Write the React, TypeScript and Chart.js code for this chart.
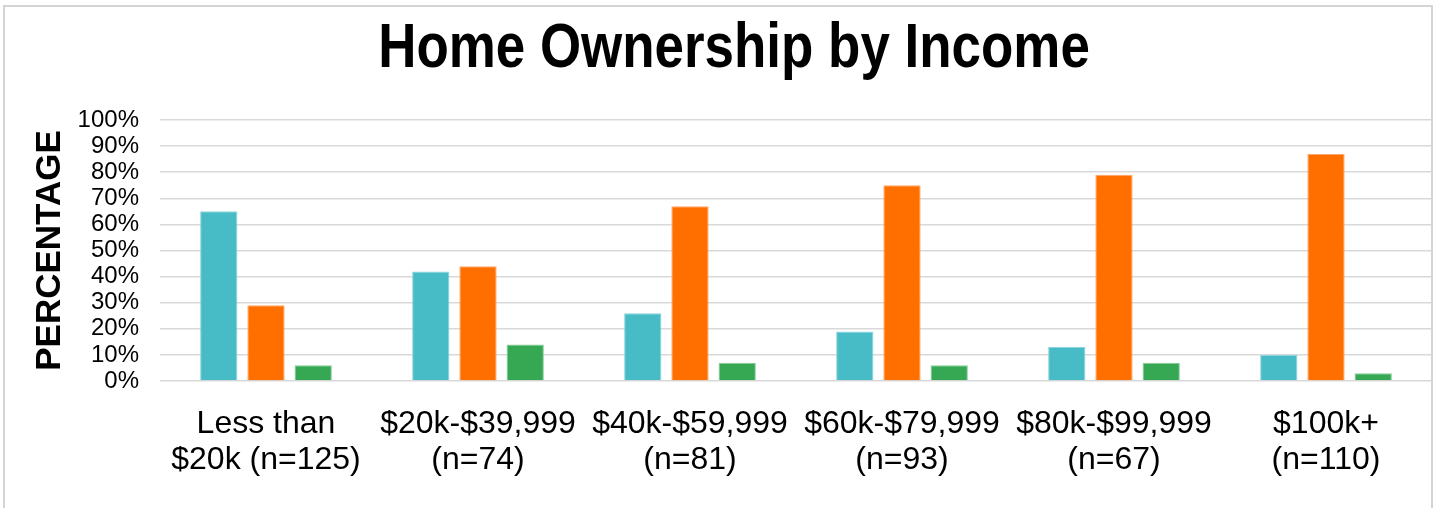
import React, { useEffect, useRef } from "react";
import { Chart, registerables } from "chart.js";

Chart.register(...registerables);

const categories: string[][] = [
  ["Less than", "$20k (n=125)"],
  ["$20k-$39,999", "(n=74)"],
  ["$40k-$59,999", "(n=81)"],
  ["$60k-$79,999", "(n=93)"],
  ["$80k-$99,999", "(n=67)"],
  ["$100k+", "(n=110)"],
];

const rentValues = [65, 42, 26, 19, 13, 10];
const ownValues = [29, 44, 67, 75, 79, 87];
const otherValues = [6, 14, 7, 6, 7, 3];

const yTicks = [0, 10, 20, 30, 40, 50, 60, 70, 80, 90, 100];

const titleText = "Home Ownership by Income";
const yTitleText = "PERCENTAGE";

// Title drawn in a slightly condensed bold face, like the reference
const condensedTitle = {
  id: "condensedTitle",
  afterDraw(chart: any) {
    const ctx = chart.ctx;
    ctx.save();
    ctx.font = "bold 63px 'Liberation Sans', Arial, sans-serif";
    ctx.fillStyle = "#000";
    ctx.textAlign = "center";
    ctx.textBaseline = "middle";
    ctx.translate(734, 50);
    ctx.scale(0.84, 1);
    ctx.fillText(titleText, 0, 0);
    ctx.restore();
  },
};

export default function App() {
  const canvasRef = useRef<HTMLCanvasElement | null>(null);

  useEffect(() => {
    if (!canvasRef.current) return;
    const chart = new Chart(canvasRef.current, {
      type: "bar",
      data: {
        labels: categories,
        datasets: [
          {
            label: "Rent",
            data: rentValues,
            backgroundColor: "#47BBC6",
            borderColor: "#8ad4db",
            borderWidth: 1,
          },
          {
            label: "Own",
            data: ownValues,
            backgroundColor: "#FF6F00",
            borderColor: "#ffa466",
            borderWidth: 1,
          },
          {
            label: "Other",
            data: otherValues,
            backgroundColor: "#36A854",
            borderColor: "#86cc98",
            borderWidth: 1,
          },
        ],
      },
      plugins: [condensedTitle],
      options: {
        animation: false,
        responsive: true,
        maintainAspectRatio: false,
        layout: { padding: { left: 0, right: 6, top: 120, bottom: 0 } },
        datasets: {
          bar: { categoryPercentage: 0.668, barPercentage: 0.79 },
        },
        plugins: {
          legend: { display: false },
          tooltip: { enabled: false },
          title: { display: false },
        },
        scales: {
          x: {
            grid: { display: false, drawTicks: false },
            border: { display: false },
            ticks: {
              color: "#000",
              padding: 25,
              maxRotation: 0,
              autoSkip: false,
              font: {
                family: "'Liberation Sans', Arial, sans-serif",
                size: 32,
                lineHeight: 1.12,
              },
            },
            afterFit: (scale: any) => {
              scale.height = 127;
            },
          },
          y: {
            min: 0,
            max: 100,
            afterBuildTicks: (scale: any) => {
              scale.ticks = yTicks.map((v) => ({ value: v }));
            },
            grid: { color: "#d9d9d9", lineWidth: 1.6, drawTicks: false },
            border: { display: false },
            ticks: {
              color: "#000",
              padding: 21,
              autoSkip: false,
              callback: (v: any) => v + "%",
              font: {
                family: "'Liberation Sans', Arial, sans-serif",
                size: 24,
              },
            },
            title: {
              display: true,
              text: yTitleText,
              color: "#000",
              padding: { top: 29, bottom: 0 },
              font: {
                family: "'Liberation Sans', Arial, sans-serif",
                size: 35,
                weight: "bold",
                lineHeight: 1.2,
              },
            },
            afterFit: (scale: any) => {
              scale.width = 160;
            },
          },
        },
      },
    });
    return () => chart.destroy();
  }, []);

  return (
    <div>
      <div
        style={{
          position: "absolute",
          left: 0,
          top: 0,
          width: 1438,
          height: 508,
          background: "#fff",
        }}
      >
        <canvas ref={canvasRef} style={{ display: "block" }} />
      </div>
      <div
        style={{
          position: "absolute",
          left: 3,
          top: 5,
          width: 1430,
          height: 503,
          boxSizing: "border-box",
          borderLeft: "2px solid #d4d4d4",
          borderTop: "2px solid #d4d4d4",
          borderRight: "2px solid #d4d4d4",
          pointerEvents: "none",
        }}
      />
    </div>
  );
}
